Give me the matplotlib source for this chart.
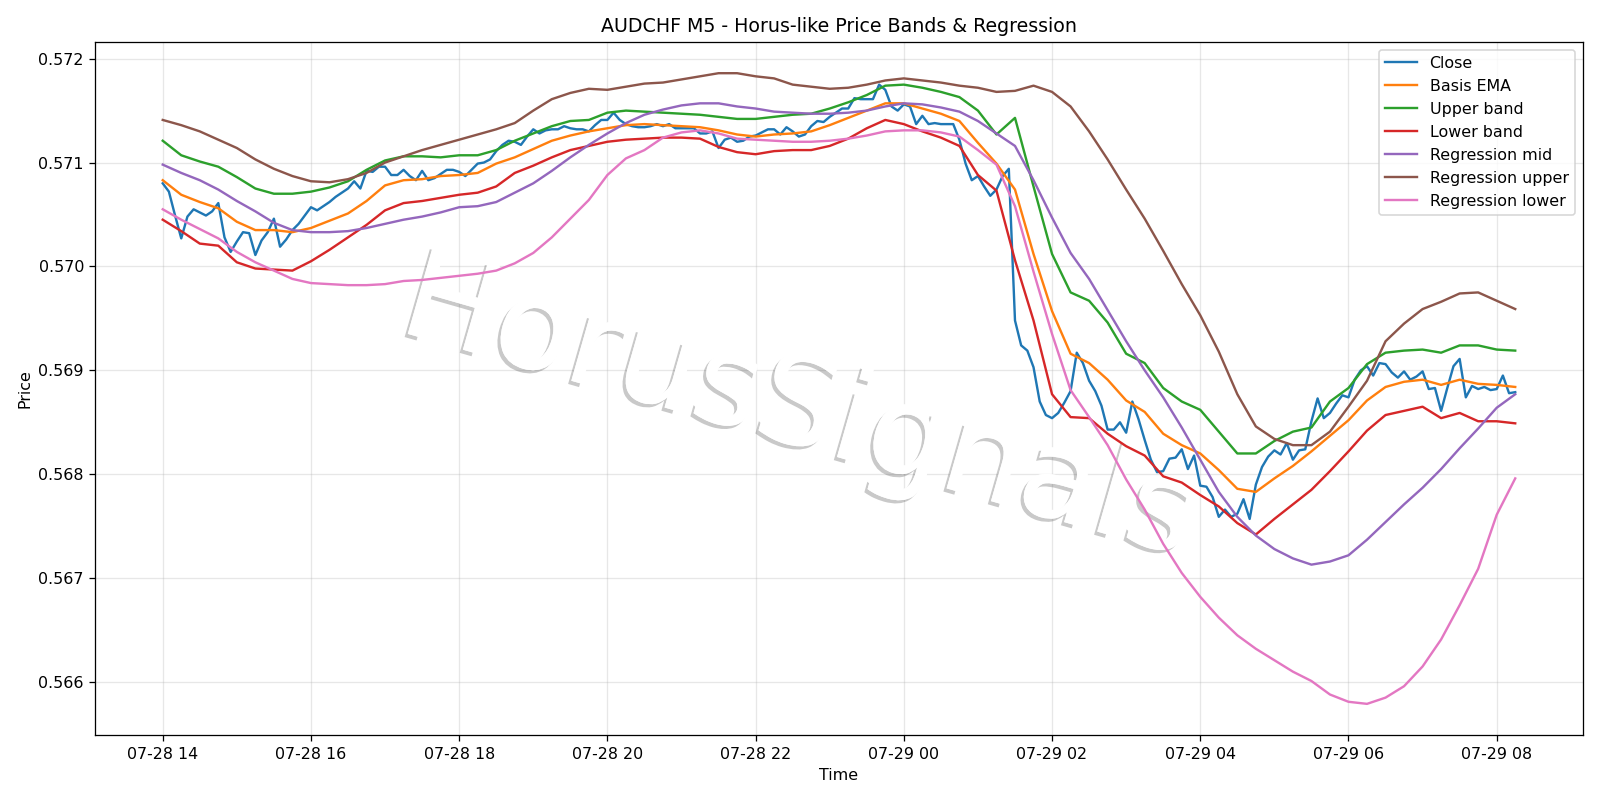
import numpy as np
import pandas as pd
import matplotlib
matplotlib.use("Agg")
import matplotlib.pyplot as plt
import matplotlib.dates as mdates
import matplotlib.patheffects as pe

# ---- data ----
close_start = "2025-07-28 14:00"
close_freq = "5min"
band_freq = "15min"

close = [
    .57080, .57072, .57049, .57027, .57048, .57055, .57052, .57049, .57053, .57061,
    .57028, .57014, .57024, .57033, .57032, .57011, .57025, .57033, .57046, .57019,
    .57026, .57035, .57041, .57049, .57057, .57054, .57058, .57062, .57067, .57071,
    .57075, .57082, .57075, .57092, .57091, .57096, .57096, .57088, .57088, .57093,
    .57087, .57083, .57092, .57083, .57085, .57089, .57093, .57093, .57091, .57087,
    .57093, .57099, .57100, .57103, .57111, .57117, .57121,
    .57120, .57117, .57125, .57132, .57128, .57131, .57132, .57132, .57135, .57133,
    .57132, .57132, .57130, .57136, .57141, .57141, .57148, .57141, .57137, .57135,
    .57134, .57134, .57135, .57137, .57135, .57137, .57133, .57133, .57133, .57133,
    .57128, .57128, .57130, .57114, .57122, .57124, .57120, .57121, .57125, .57126,
    .57129, .57132, .57132, .57127, .57134, .57130, .57125, .57127, .57135, .57140,
    .57139, .57144, .57148, .57152, .57152, .57162, .57161, .57161, .57161, .57175,
    .57170, .57154, .57150,
    .57156, .57154, .57137, .57145, .57137, .57138, .57137, .57137, .57137, .57122,
    .57099, .57083, .57087, .57077, .57068, .57074, .57087, .57094, .56948, .56924,
    .56919, .56903, .56870, .56857, .56854, .56859, .56869, .56880, .56917, .56907,
    .56890, .56880, .56866, .56843, .56843, .56850, .56840, .56870, .56853, .56833,
    .56814, .56802, .56803, .56815, .56816, .56824, .56805, .56818, .56789, .56788,
    .56778, .56759, .56766, .56759, .56762, .56776, .56757, .56790, .56807, .56817,
    .56823, .56819, .56830, .56814, .56823, .56824,
    .56851, .56873, .56854, .56859, .56868, .56876, .56874, .56891, .56900, .56904,
    .56895, .56907, .56906, .56898, .56893, .56899, .56891, .56894, .56899, .56882,
    .56883, .56861, .56883, .56904, .56911, .56874, .56885, .56882, .56884, .56881,
    .56882, .56895, .56878, .56879,
]

basis_ema = [
    .57083, .57069, .57062, .57056, .57043, .57035, .57035, .57033, .57037, .57044,
    .57051, .57063, .57078, .57083, .57084, .57087, .57088, .57090, .57099, .57105,
    .57113, .57121, .57126, .57130, .57133, .57136, .57137, .57136, .57135, .57134,
    .57131, .57127, .57125, .57127, .57128, .57130, .57136, .57143, .57150, .57157,
    .57157, .57152, .57147, .57140, .57119, .57099, .57074, .57012, .56957, .56916,
    .56907, .56891, .56871, .56860, .56839, .56828, .56820, .56804, .56786, .56783,
    .56796, .56808, .56822, .56837, .56852, .56871, .56884, .56889, .56891, .56886,
    .56891, .56887, .56886, .56884,
]

upper_band = [
    .57121, .57107, .57101, .57096, .57086, .57075, .57070, .57070, .57072, .57076,
    .57082, .57093, .57102, .57106, .57106, .57105, .57107, .57107, .57112, .57121,
    .57128, .57135, .57140, .57141, .57148, .57150, .57149, .57148, .57147, .57146,
    .57144, .57142, .57142, .57144, .57146, .57147, .57152, .57158, .57165, .57174,
    .57175, .57172, .57168, .57163, .57150, .57127, .57143, .57077, .57012, .56975,
    .56967, .56946, .56916, .56907, .56883, .56870, .56862, .56841, .56820, .56820,
    .56832, .56841, .56845, .56870, .56883, .56906, .56917, .56919, .56920, .56917,
    .56924, .56924, .56920, .56919,
]

lower_band = [
    .57045, .57034, .57022, .57020, .57004, .56998, .56997, .56996, .57005, .57016,
    .57028, .57040, .57054, .57061, .57063, .57066, .57069, .57071, .57077, .57090,
    .57097, .57105, .57112, .57116, .57120, .57122, .57123, .57124, .57124, .57123,
    .57115, .57110, .57108, .57111, .57112, .57112, .57116, .57123, .57133, .57141,
    .57137, .57130, .57124, .57116, .57088, .57073, .57006, .56948, .56877, .56855,
    .56854, .56839, .56827, .56818, .56798, .56792, .56780, .56769, .56753, .56742,
    .56757, .56771, .56785, .56803, .56822, .56842, .56857, .56861, .56865, .56854,
    .56859, .56851, .56851, .56849,
]

reg_mid = [
    .57098, .57090, .57083, .57074, .57063, .57053, .57042, .57035, .57033, .57033,
    .57034, .57037, .57041, .57045, .57048, .57052, .57057, .57058, .57062, .57071,
    .57080, .57092, .57105, .57117, .57128, .57138, .57146, .57151, .57155, .57157,
    .57157, .57154, .57152, .57149, .57148, .57147, .57147, .57148, .57150, .57154,
    .57157, .57156, .57153, .57149, .57140, .57128, .57116, .57083, .57047, .57013,
    .56988, .56958, .56928, .56900, .56874, .56845, .56814, .56783, .56759, .56741,
    .56728, .56719, .56713, .56716, .56722, .56737, .56754, .56771, .56787, .56805,
    .56825, .56844, .56864, .56877,
]

reg_upper = [
    .57141, .57136, .57130, .57122, .57114, .57103, .57094, .57087, .57082, .57081,
    .57084, .57090, .57100, .57106, .57112, .57117, .57122, .57127, .57132, .57138,
    .57150, .57161, .57167, .57171, .57170, .57173, .57176, .57177, .57180, .57183,
    .57186, .57186, .57183, .57181, .57175, .57173, .57171, .57172, .57175, .57179,
    .57181, .57179, .57177, .57174, .57172, .57168, .57169, .57174, .57168, .57154,
    .57130, .57103, .57074, .57046, .57015, .56983, .56953, .56918, .56877, .56846,
    .56834, .56828, .56828, .56841, .56865, .56890, .56928, .56945, .56959, .56966,
    .56974, .56975, .56967, .56959,
]

reg_lower = [
    .57055, .57045, .57036, .57027, .57014, .57004, .56996, .56988, .56984, .56983,
    .56982, .56982, .56983, .56986, .56987, .56989, .56991, .56993, .56996, .57003,
    .57013, .57028, .57046, .57064, .57088, .57104, .57112, .57124, .57129, .57131,
    .57128, .57123, .57122, .57121, .57120, .57120, .57121, .57123, .57126, .57130,
    .57131, .57131, .57129, .57125, .57112, .57098, .57058, .56995, .56935, .56881,
    .56855, .56828, .56795, .56766, .56733, .56705, .56682, .56662, .56645, .56632,
    .56621, .56610, .56601, .56588, .56581, .56579, .56585, .56596, .56615, .56641,
    .56674, .56709, .56761, .56796,
]

close_t = pd.date_range(close_start, periods=len(close), freq=close_freq)
band_t = pd.date_range(close_start, periods=len(basis_ema), freq=band_freq)

DPI = 1600 / 14
fig, ax = plt.subplots(figsize=(14, 7), dpi=DPI)

ax.plot(close_t, close, label="Close")
ax.plot(band_t, basis_ema, label="Basis EMA")
ax.plot(band_t, upper_band, label="Upper band")
ax.plot(band_t, lower_band, label="Lower band")
ax.plot(band_t, reg_mid, label="Regression mid")
ax.plot(band_t, reg_upper, label="Regression upper")
ax.plot(band_t, reg_lower, label="Regression lower")

ax.set_title("AUDCHF M5 - Horus-like Price Bands & Regression")
ax.set_xlabel("Time")
ax.set_ylabel("Price")
ax.grid(True, alpha=0.3)
ax.legend(loc="upper right")

ax.xaxis.set_major_locator(mdates.HourLocator(byhour=range(0, 24, 2)))
ax.xaxis.set_major_formatter(mdates.DateFormatter("%m-%d %H"))

ax.text(0.499, 0.4875, "HorusSignals", transform=fig.transFigure,
        fontsize=79, color="white", rotation=-16,
        ha="center", va="center", zorder=1.7,
        path_effects=[pe.withSimplePatchShadow(offset=(-2, -2)), pe.Normal()])

fig.tight_layout()
fig.savefig("out.png", dpi=DPI)
